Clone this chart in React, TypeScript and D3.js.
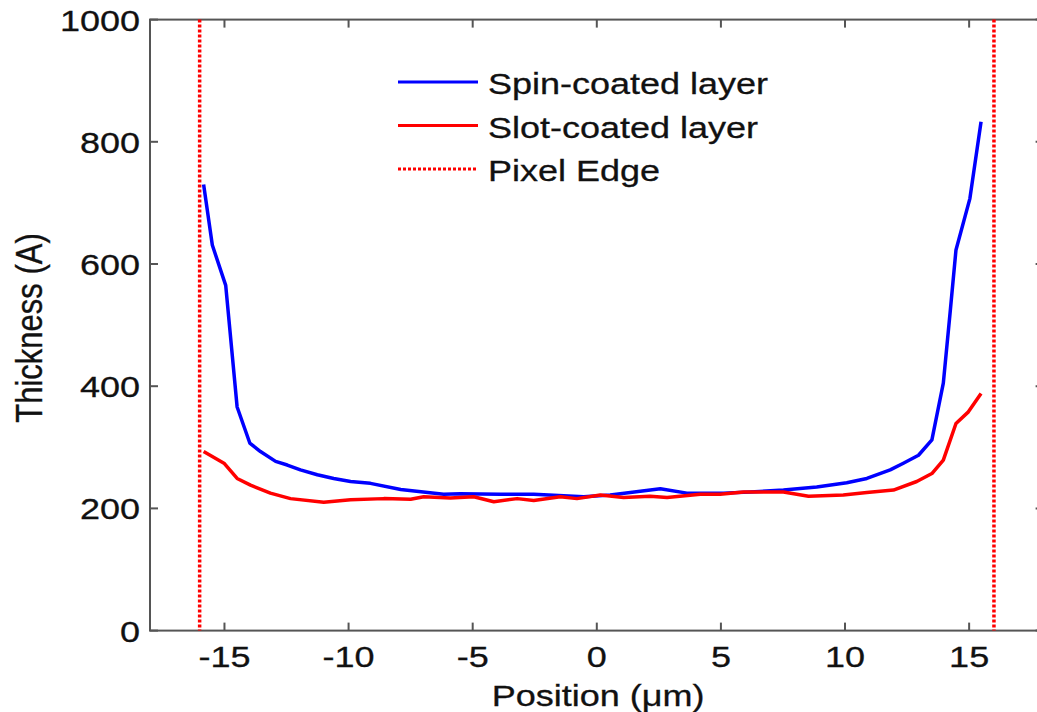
import React from "react";
import * as d3 from "d3";

const spinX = [-15.84,-15.49,-14.95,-14.49,-13.98,-13.55,-12.94,-12.47,-11.94,-11.26,-10.6,-9.92,-9.12,-7.9,-6.17,-5.5,-3.88,-2.54,-0.53,0.54,2.56,3.63,5.1,6.18,7.52,8.86,10.07,10.88,11.82,12.35,12.96,13.5,13.96,14.23,14.47,15.03,15.48];
const spinY = [730,631,565,366,307,293,277,271,263,255,249,244,241,231,223,224,223,223,219,222,232,225,225,227,230,235,242,249,263,274,287,312,405,519,623,707,833];

const slotX = [-15.84,-15.02,-14.49,-13.95,-13.15,-12.34,-11,-9.92,-8.58,-7.5,-6.97,-5.9,-4.96,-4.15,-3.21,-2.54,-1.47,-0.8,0.14,1.08,2.15,2.83,4.17,4.97,5.91,7.52,8.53,9.93,10.88,11.95,12.89,13.5,13.96,14.47,14.97,15.48];
const slotY = [293,274,249,238,225,216,210,214,216,215,219,217,219,211,216,213,219,216,222,218,220,218,223,223,227,227,220,222,226,230,244,257,279,339,358,388];

const pixelEdges = [-16, 16];
const xTicks = [-15, -10, -5, 0, 5, 10, 15];
const yTicks = [0, 200, 400, 600, 800, 1000];
const legendItems = [
  { label: "Spin-coated layer", color: "#0000ff", dashed: false },
  { label: "Slot-coated layer", color: "#ff0000", dashed: false },
  { label: "Pixel Edge", color: "#ff0000", dashed: true },
];

const W = 1037, H = 712;
const FONT = "Arial, 'Liberation Sans', Helvetica, sans-serif";
const SX = 1.2;

export default function App() {
  const x = d3.scaleLinear().domain([-18, 18]).range([150, 1043.6]);
  const y = d3.scaleLinear().domain([0, 1000]).range([630.6, 19.6]);
  const line = d3.line<[number, number]>().x(d => x(d[0])).y(d => y(d[1]));
  const spin = line(spinX.map((v, i) => [v, spinY[i]]) as [number, number][]) || "";
  const slot = line(slotX.map((v, i) => [v, slotY[i]]) as [number, number][]) || "";
  const axisColor = "#555";
  const left = x(-18), right = x(18), top = y(1000), bottom = y(0);
  const tl = 8;
  return (
    <svg width={W} height={H} style={{ position: "absolute", left: 0, top: 0, background: "#fff" }} fontFamily={FONT}>
      <rect x={0} y={0} width={W} height={H} fill="#fff" />
      <rect x={left} y={top} width={right - left} height={bottom - top} fill="none" stroke={axisColor} strokeWidth={2} />
      {xTicks.map(t => (
        <g key={"xt" + t}>
          <line x1={x(t)} x2={x(t)} y1={bottom} y2={bottom - tl} stroke={axisColor} strokeWidth={2} />
          <line x1={x(t)} x2={x(t)} y1={top} y2={top + tl} stroke={axisColor} strokeWidth={2} />
          <text transform={`translate(${x(t)},667) scale(${SX},1)`} textAnchor="middle" fontSize={30} fill="#111" stroke="#111" strokeWidth={0.3}>{t}</text>
        </g>
      ))}
      {yTicks.map(t => (
        <g key={"yt" + t}>
          <line x1={left} x2={left + tl} y1={y(t)} y2={y(t)} stroke={axisColor} strokeWidth={2} />
          <line x1={right} x2={right - tl} y1={y(t)} y2={y(t)} stroke={axisColor} strokeWidth={2} />
          <text transform={`translate(140,${y(t) + 11}) scale(${SX},1)`} textAnchor="end" fontSize={30} fill="#111" stroke="#111" strokeWidth={0.3}>{t}</text>
        </g>
      ))}
      <text transform={`translate(598,706) scale(${SX},1)`} textAnchor="middle" fontSize={30} fill="#111" stroke="#111" strokeWidth={0.3}>Position (μm)</text>
      <text transform={`translate(42,328) scale(${SX},1) rotate(-90)`} textAnchor="middle" fontSize={31} fill="#111" stroke="#111" strokeWidth={0.3}>Thickness (A)</text>
      {pixelEdges.map(p => (
        <line key={"pe" + p} x1={x(p)} x2={x(p)} y1={top} y2={bottom} stroke="#ff0000" strokeWidth={3.5} strokeDasharray="3,2" />
      ))}
      <path d={spin} fill="none" stroke="#0000ff" strokeWidth={3.5} strokeLinejoin="round" />
      <path d={slot} fill="none" stroke="#ff0000" strokeWidth={3.5} strokeLinejoin="round" />
      {legendItems.map((it, i) => {
        const cy = 82 + i * 43.5;
        return (
          <g key={it.label}>
            <line x1={398} x2={478} y1={cy} y2={cy} stroke={it.color} strokeWidth={3} strokeDasharray={it.dashed ? "3,2" : undefined} />
            <text transform={`translate(488,${cy + 12}) scale(${SX},1)`} fontSize={30} fill="#111" stroke="#111" strokeWidth={0.3}>{it.label}</text>
          </g>
        );
      })}
    </svg>
  );
}
